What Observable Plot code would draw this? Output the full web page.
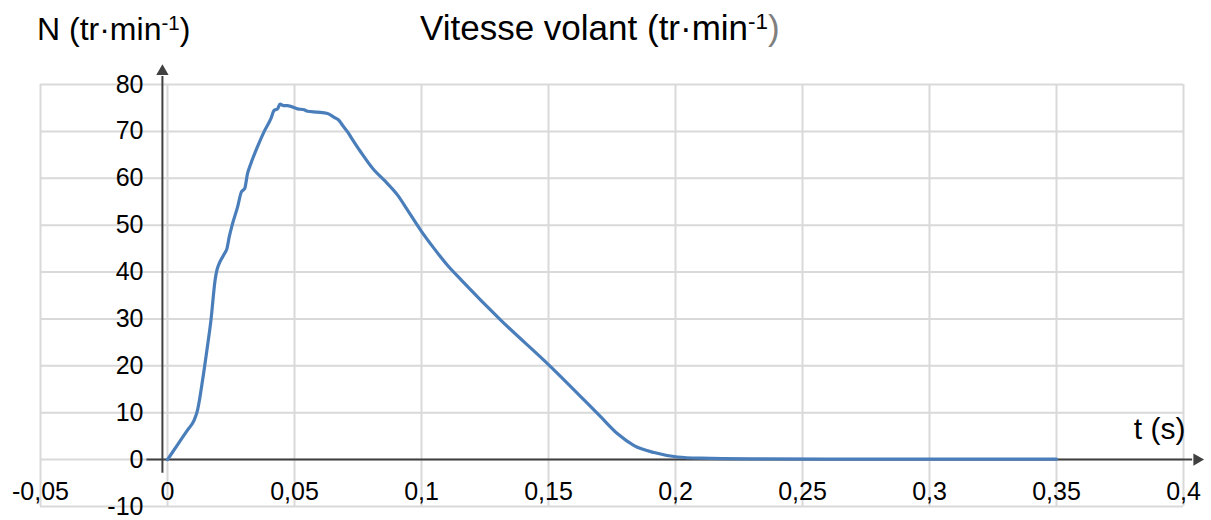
<!DOCTYPE html>
<html>
<head>
<meta charset="utf-8">
<script src="https://cdn.jsdelivr.net/npm/d3@7"></script>
<script src="https://cdn.jsdelivr.net/npm/@observablehq/plot@0.6"></script>
<style>
  html, body { margin: 0; padding: 0; background: white; }
  body { font-family: "Liberation Sans", Arial, sans-serif; color: #000; }
  #hdr { position: relative; width: 1211px; height: 56px; }
  #hdr span.t { position: absolute; line-height: 1; white-space: nowrap; }
  sup { font-size: 0.64em; line-height: 0; vertical-align: baseline; position: relative; top: -0.48em; }
</style>
</head>
<body>
<div id="hdr">
  <span class="t" style="left:37px;top:13px;font-size:32px;">N (tr·min<sup>-1</sup>)</span>
  <span class="t" style="left:420px;top:10px;font-size:35px;">Vitesse volant (tr·min<sup>-1</sup><span style="color:#7f7f7f">)</span></span>
</div>
<div id="chart"></div>
<script>
// Data (time in s, speed in tr/min)
const t = [0, 0.004, 0.008, 0.0105, 0.0118, 0.0138, 0.0155, 0.0171, 0.0188, 0.0195, 0.0205, 0.0225, 0.0234, 0.0243, 0.0256, 0.0276, 0.0291, 0.0304, 0.0315, 0.0328, 0.0354, 0.038, 0.0407, 0.042, 0.0433, 0.0443, 0.0457, 0.0472, 0.0512, 0.0538, 0.0551, 0.0591, 0.063, 0.0656, 0.0676, 0.0689, 0.0709, 0.0722, 0.0761, 0.0814, 0.0853, 0.0906, 0.0945, 0.0997, 0.105, 0.1103, 0.1155, 0.1313, 0.1503, 0.1706, 0.1772, 0.1837, 0.1916, 0.2008, 0.21, 0.23, 0.26, 0.3, 0.35];
const N = [0, 3.2, 6.4, 8.4, 10.5, 16.9, 23.3, 29.7, 38.5, 40.5, 42, 44, 45, 47.5, 50.3, 53.9, 57.1, 57.8, 61.0, 63.1, 66.7, 69.9, 72.7, 74.5, 74.8, 75.8, 75.5, 75.5, 74.8, 74.6, 74.3, 74.1, 73.8, 73.0, 72.3, 71.3, 69.9, 68.8, 65.6, 61.7, 59.6, 56.4, 53.2, 48.9, 45.0, 41.4, 38.4, 29.7, 20.1, 9.1, 5.5, 3.0, 1.5, 0.55, 0.3, 0.15, 0.1, 0.1, 0.1];

const xTicks = [-0.05, 0, 0.05, 0.1, 0.15, 0.2, 0.25, 0.3, 0.35, 0.4];
const xTickLabels = ["-0,05", "0", "0,05", "0,1", "0,15", "0,2", "0,25", "0,3", "0,35", "0,4"];
const yTicks = [-10, 0, 10, 20, 30, 40, 50, 60, 70, 80];
const yTickLabels = ["-10", "0", "10", "20", "30", "40", "50", "60", "70", "80"];
const xLabel = "t (s)";

const data = t.map((v, i) => ({t: v, N: N[i]}));
const xt = xTicks.map((v, i) => ({v, label: xTickLabels[i]}));
const yt = yTicks.map((v, i) => ({v, label: yTickLabels[i]}));

const axisColor = "#404040";
const gridColor = "#d9d9d9";

const chart = Plot.plot({
  width: 1211,
  height: 464,
  marginLeft: 40,
  marginRight: 28,
  marginTop: 28,
  marginBottom: 14,
  style: {fontFamily: "'Liberation Sans', Arial, sans-serif", fontSize: "25px", background: "white", color: "#000", overflow: "visible"},
  x: {domain: [-0.05, 0.4], axis: null},
  y: {domain: [-10, 80], axis: null},
  marks: [
    Plot.ruleX(xTicks, {stroke: gridColor, strokeWidth: 2}),
    Plot.ruleY(yTicks, {stroke: gridColor, strokeWidth: 2}),
    // axes with arrows
    Plot.ruleY([0], {x1: -0.0081, x2: 0.4036, stroke: axisColor, strokeWidth: 2}),
    Plot.ruleX([-0.002], {y1: -2.9, y2: 81.7, stroke: axisColor, strokeWidth: 2}),
    Plot.dot([{x: -0.002, y: 82.8}], {x: "x", y: "y", symbol: "triangle2", r: 5.9, fill: axisColor, stroke: "none"}),
    Plot.dot([{x: 0.4053, y: 0}], {x: "x", y: "y", symbol: "triangle2", r: 5.9, fill: axisColor, stroke: "none", rotate: 90}),
    // data line
    Plot.line(data, {x: "t", y: "N", curve: "monotone-x", stroke: "#4a7ebb", strokeWidth: 3.2, strokeLinejoin: "round", strokeLinecap: "round"}),
    // tick labels
    Plot.text(yt, {y: "v", text: "label", frameAnchor: "left", dx: 103, textAnchor: "end", lineAnchor: "middle", fill: "#000", fontSize: 25}),
    Plot.text(xt, {x: "v", text: "label", frameAnchor: "bottom", dy: -15, textAnchor: "middle", lineAnchor: "middle", fill: "#000", fontSize: 25}),
    Plot.text([xLabel], {text: d => d, frameAnchor: "bottom-right", dx: 2, dy: -77, textAnchor: "end", lineAnchor: "middle", fill: "#000", fontSize: 30})
  ]
});
document.getElementById("chart").appendChild(chart);
</script>
</body>
</html>
